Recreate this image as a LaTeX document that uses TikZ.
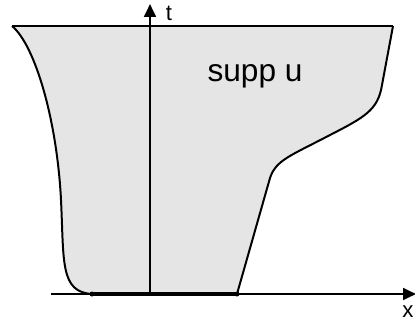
\documentclass[tikz,border=0pt]{standalone}
\usepackage{fontspec}
\setmainfont{Liberation Sans}
\usetikzlibrary{arrows.meta,positioning}
\tikzset{
  axis/.style={line width=2pt, -{Triangle[length=11pt,width=10pt]}},
  rim/.style={line width=1.7pt},
  lbl/.style={inner sep=0pt, font=\fontsize{19}{21}\selectfont},
}
\begin{document}
\begin{tikzpicture}[x=0.03cm, y=-0.03cm]
        \useasboundingbox (0,0) rectangle (415,324);
        \coordinate (TL) at (12,26);
        \coordinate (TR) at (393,26);
        \coordinate (A) at (92,294);
        \coordinate (B) at (237,294);
        \coordinate (O) at (150,294);
        \coordinate (xs) at (51,294);
        \coordinate (xe) at (416,294);
        \coordinate (te) at (150,4);
        \fill [gray!20] (TL) .. controls (35,45) and (57,120) .. (61,200) .. controls (64,262) and (60,292) .. (A)
              -- (B) -- (270,178) .. controls (276,160) and (290,156) .. (330,135)
              .. controls (365,117) and (378,110) .. (382,85) -- (TR) -- cycle;
        \draw [rim] (TL) .. controls (35,45) and (57,120) .. (61,200) .. controls (64,262) and (60,292) .. (A);
        \draw [rim] (B) -- (270,178) .. controls (276,160) and (290,156) .. (330,135)
              .. controls (365,117) and (378,110) .. (382,85) -- (TR);
        \draw [rim] (TL) -- (TR);
        \draw [axis] (xs) -- (xe);
        \draw [axis] (O) -- (te);
        \draw [line width=3.6pt] (A) -- (B);
        \fill (A) circle (2.5);
        \fill (B) circle (2.5);
        \node [lbl] (tlab) at (169,13) {t};
        \node [lbl] (xlab) at (408,312) {x};
        \node [inner sep=0pt, font=\fontsize{27}{30}\selectfont] (supp) at (255,76) {supp u};
\end{tikzpicture}
\end{document}
